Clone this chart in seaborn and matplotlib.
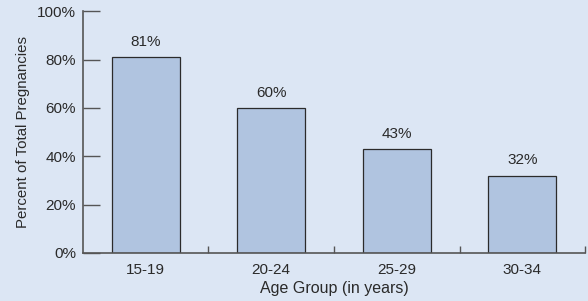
import numpy as np
import pandas as pd
import seaborn as sns
from matplotlib import pyplot as plt
from matplotlib.ticker import FixedLocator

age_groups = ['15-19', '20-24', '25-29', '30-34']
percent = [81, 60, 43, 32]
y_ticks = [0, 20, 40, 60, 80, 100]

bg = '#dce6f4'
txt = '#2a2a2a'
sns.set_style('white')
plt.rcParams['font.family'] = ['Liberation Sans', 'DejaVu Sans']

df = pd.DataFrame({'age': age_groups, 'pct': percent})

fig = plt.figure(figsize=(5.88, 3.01), dpi=100, facecolor=bg)
ax = fig.add_axes([0.141, 0.1595, 0.854, 0.803])
ax.set_facecolor(bg)

sns.barplot(data=df, x='age', y='pct', color='#b0c4e0', saturation=1,
            width=0.54, edgecolor='#2b2b2b', linewidth=0.9, ax=ax)

ax.bar_label(ax.containers[0], labels=[f'{v}%' for v in percent],
             padding=6, fontsize=11, color=txt)

ax.set_xlim(-0.5, 3.5)
ax.set_ylim(0, 100)
ax.set_yticks(y_ticks)
ax.set_yticklabels([f'{t}%' for t in y_ticks], fontsize=11, color=txt)
ax.tick_params(axis='y', left=True, direction='in', length=12, width=1,
               color='#555555', pad=5)
ax.tick_params(axis='x', which='major', bottom=False, length=0, labelsize=11,
               labelcolor=txt, pad=7)
ax.xaxis.set_minor_locator(FixedLocator([0.5, 1.5, 2.5, 3.5]))
ax.tick_params(axis='x', which='minor', bottom=True, direction='in', length=5,
               width=1, color='#555555')

for s in ['top', 'right']:
    ax.spines[s].set_visible(False)
for s in ['left', 'bottom']:
    ax.spines[s].set_color('#555555')
    ax.spines[s].set_linewidth(1.2)

ax.set_xlabel('Age Group (in years)', fontsize=11.5, color=txt, labelpad=3)
ax.set_ylabel('Percent of Total Pregnancies', fontsize=10.8, color=txt, labelpad=5)

fig.savefig('out.png', dpi=100, facecolor=bg)
